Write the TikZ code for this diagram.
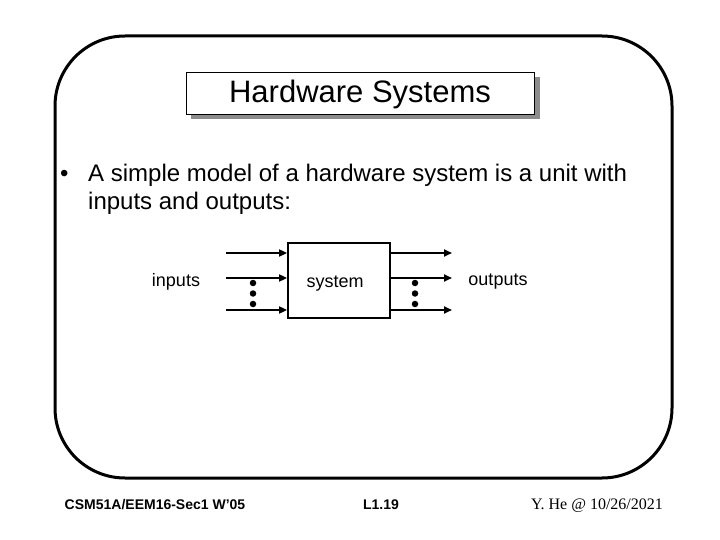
\documentclass[tikz,border=0pt]{standalone}
\usepackage{fontspec}
\setmainfont{Liberation Sans}
\newfontfamily\seriffont{Liberation Serif}
\usetikzlibrary{arrows.meta,calc}
\begin{document}
\begin{tikzpicture}[x=1pt,y=-1pt,
  sig/.style={line width=1.8pt,-{Triangle[length=8pt,width=7pt]}},
  dotmark/.style={circle,fill=black,inner sep=0pt,minimum size=6.5pt},
  lbl/.style={font=\fontsize{18}{20}\selectfont,inner sep=0pt,anchor=base},
  bodytext/.style={font=\fontsize{24}{28}\selectfont,inner sep=0pt,anchor=base west},
  foot/.style={inner sep=0pt,anchor=base}
]
\useasboundingbox (0,0) rectangle (720,540);
% slide frame
\draw[line width=3pt,rounded corners=70pt] (55,36) rectangle (672,478);
% title with shadow
\fill[black!45] (191,77) rectangle (540,119);
\node[draw=black,line width=0.8pt,fill=white,minimum width=348pt,minimum height=42pt,inner sep=0pt] (title) at (360,93) {};
\node[inner sep=0pt,anchor=base,font=\fontsize{31}{34}\selectfont] (titletext) at (360,103) {Hardware Systems};
% bullet text
\node[bodytext] (bul) at (60,182) {•};
\node[bodytext] (l1) at (88,182) {A simple model of a hardware system is a unit with};
\node[bodytext] (l2) at (88,210) {inputs and outputs:};
% system box
\node[draw,line width=1.8pt,minimum width=102pt,minimum height=75pt,inner sep=0pt] (sys) at (339,280.5) {};
\node[lbl] (syslbl) at (335,287) {system};
\node[lbl] (inlbl) at (176,286) {inputs};
\node[lbl] (outlbl) at (498,285) {outputs};
% input arrows
\coordinate (i1) at (226,253);
\coordinate (i2) at (226,278);
\coordinate (i3) at (226,310);
\draw[sig] (i1) -- (i1 -| sys.west);
\draw[sig] (i2) -- (i2 -| sys.west);
\draw[sig] (i3) -- (i3 -| sys.west);
% output arrows
\coordinate (o1) at (452,253);
\coordinate (o2) at (452,278);
\coordinate (o3) at (452,310);
\draw[sig] (o1 -| sys.east) -- (o1);
\draw[sig] (o2 -| sys.east) -- (o2);
\draw[sig] (o3 -| sys.east) -- (o3);
% dots
\node[dotmark] (d1) at (253,283) {};
\node[dotmark] (d2) at (253,293.5) {};
\node[dotmark] (d3) at (253,304) {};
\node[dotmark] (e1) at (415,283) {};
\node[dotmark] (e2) at (415,293.5) {};
\node[dotmark] (e3) at (415,304) {};
% footer
\node[foot,font=\fontsize{14}{16}\selectfont\bfseries] (f1) at (155,509) {CSM51A/EEM16-Sec1 W'05};
\node[foot,font=\fontsize{14}{16}\selectfont\bfseries] (f2) at (381,509) {L1.19};
\node[foot,font=\fontsize{16}{18}\selectfont\seriffont] (f3) at (597,509) {Y. He @ 10/26/2021};
\end{tikzpicture}
\end{document}
